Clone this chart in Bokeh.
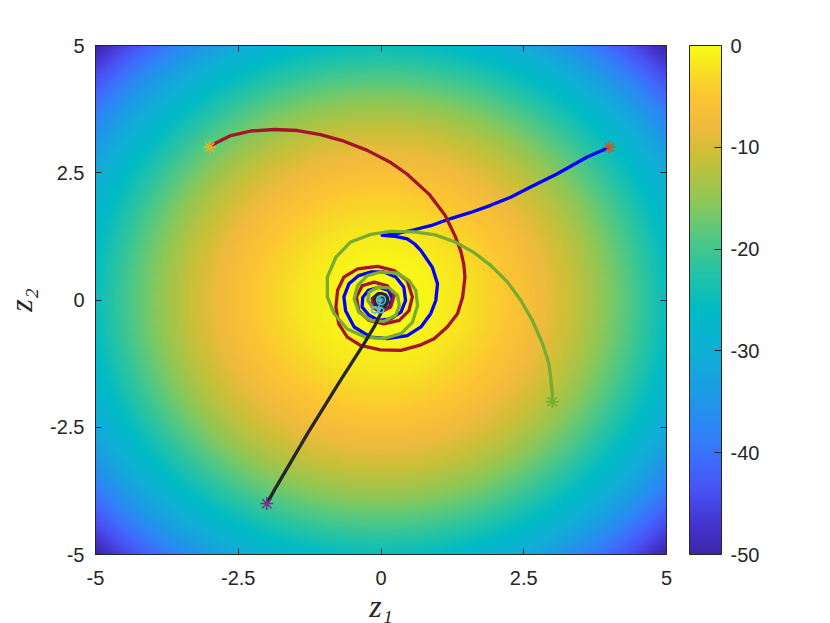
import numpy as np
from bokeh.plotting import figure
from bokeh.models import (Range1d, LinearColorMapper, ColorBar, FixedTicker,
                          LinearAxis)
from bokeh.embed import file_html
from bokeh.resources import INLINE

# ---------------- data ----------------
axis_ticks = [-5, -2.5, 0, 2.5, 5]
axis_tick_labels = ["-5", "-2.5", "0", "2.5", "5"]
cbar_ticks = [-50, -40, -30, -20, -10, 0]
cbar_tick_labels = ["-50", "-40", "-30", "-20", "-10", "0"]
value_low, value_high = -50, 0

start_z1 = [4, -3, 3, -2]
start_z2 = [3, 3, -2, -4]
start_colors = ["#D95319", "#EDB120", "#77AC30", "#7E2F8E"]

blue_z1 = [4.00, 3.61, 3.09, 2.62, 2.27, 1.92, 1.57, 1.22, 0.87, 0.58, 0.29, 0.02,
           0.25, 0.46, 0.59, 0.70, 0.90, 0.99, 0.96, 0.87, 0.70, 0.46, 0.11, -0.18,
           -0.47, -0.62, -0.65, -0.56, -0.39, -0.18, 0.05, 0.26, 0.40, 0.43, 0.35,
           0.17, -0.04, -0.21, -0.33, -0.32, -0.22, -0.04, 0.13, 0.20, 0.13, -0.01,
           -0.13, -0.15, -0.04, 0.08, 0.06, -0.02, 0.00]
blue_z2 = [3.00, 2.81, 2.48, 2.22, 2.02, 1.86, 1.72, 1.60, 1.46, 1.38, 1.31, 1.27,
           1.25, 1.20, 1.10, 0.97, 0.64, 0.32, -0.01, -0.27, -0.53, -0.70, -0.76, -0.73,
           -0.53, -0.21, 0.06, 0.32, 0.48, 0.55, 0.55, 0.45, 0.25, -0.01, -0.24,
           -0.37, -0.40, -0.30, -0.14, 0.05, 0.19, 0.25, 0.19, 0.03, -0.13, -0.19,
           -0.11, 0.03, 0.13, 0.07, -0.05, -0.05, 0.00]

red_z1 = [-3.00, -2.92, -2.63, -2.28, -1.87, -1.46, -1.06, -0.65, -0.24, 0.17, 0.45,
          0.85, 1.12, 1.30, 1.40, 1.45, 1.47, 1.43, 1.34, 1.16, 0.93, 0.70, 0.35,
          -0.01, -0.36, -0.59, -0.74, -0.79, -0.76, -0.65, -0.41, -0.06, 0.23, 0.46,
          0.55, 0.49, 0.32, 0.05, -0.21, -0.39, -0.43, -0.33, -0.12, 0.11, 0.23, 0.17,
          -0.01, -0.15, -0.15, -0.03, 0.05, -0.01, 0.00]
red_z2 = [3.00, 3.07, 3.23, 3.32, 3.35, 3.33, 3.25, 3.12, 2.94, 2.70, 2.48,
          2.07, 1.67, 1.25, 0.95, 0.70, 0.45, 0.06, -0.27, -0.53, -0.76, -0.88, -0.99,
          -0.98, -0.89, -0.73, -0.47, -0.14, 0.19, 0.45, 0.61, 0.66, 0.58, 0.38,
          0.06, -0.21, -0.40, -0.47, -0.40, -0.21, 0.06, 0.28, 0.35, 0.28, 0.09, -0.14,
          -0.24, -0.14, 0.02, 0.10, 0.02, -0.04, 0.00]

green_z1 = [3.00, 3.00, 2.97, 2.94, 2.83, 2.65, 2.45, 2.21, 1.92, 1.63, 1.30, 0.95,
            0.58, 0.17, -0.18, -0.53, -0.79, -0.94, -0.94, -0.82, -0.59, -0.27, 0.05,
            0.35, 0.55, 0.64, 0.61, 0.49, 0.29, -0.01, -0.24, -0.41, -0.47, -0.39,
            -0.18, 0.05, 0.26, 0.32, 0.29, 0.14, -0.06, -0.21, -0.23, -0.15, -0.01,
            0.11, 0.11, -0.01, -0.06, 0.00]
green_z2 = [-2.01, -1.84, -1.50, -1.25, -0.86, -0.40, -0.01, 0.36, 0.68, 0.93, 1.14, 1.28,
            1.34, 1.35, 1.29, 1.14, 0.84, 0.45, 0.06, -0.27, -0.57, -0.73, -0.76,
            -0.66, -0.44, -0.11, 0.19, 0.38, 0.53, 0.55, 0.48, 0.28, 0.02, -0.24,
            -0.40, -0.42, -0.30, -0.11, 0.09, 0.24, 0.25, 0.15, -0.01, -0.14, -0.17,
            -0.09, 0.04, 0.09, 0.00, 0.00]

black_z1 = [-2.00, -1.87, -1.29, -0.71, -0.30, -0.12, -0.02, 0.04, 0.10, 0.12, 0.08,
            0.00, -0.08, -0.11, -0.08, -0.01, 0.05, 0.06, 0.02, 0.00]
black_z2 = [-4.00, -3.74, -2.63, -1.58, -0.86, -0.53, -0.30, -0.16, -0.07, 0.03, 0.10,
            0.13, 0.09, 0.00, -0.08, -0.10, -0.06, 0.01, 0.04, 0.00]

cyan_z1 = [-0.05, -0.10, -0.16, -0.16, -0.10, -0.04, 0.00, 0.05, 0.04, -0.02, -0.05,
           -0.03, 0.00]
cyan_z2 = [-0.20, -0.13, -0.16, -0.23, -0.26, -0.22, -0.15, -0.18, -0.24, -0.25, -0.19,
           -0.10, 0.00]
end_z1 = [0.0]
end_z2 = [0.0]

x_label = "z\u2081"
y_label = "z\u2082"

# ---------------- style ----------------
TXT = "#262626"
FONT = "Liberation Sans"

# parula-like colormap
par_pos = [0.00, 0.06, 0.125, 0.19, 0.25, 0.32, 0.40, 0.48, 0.56, 0.63, 0.70, 0.78,
           0.84, 0.90, 0.95, 1.00]
par_r = [0.2422, 0.2680, 0.2810, 0.2400, 0.1700, 0.1100, 0.0600, 0.0000, 0.1500,
         0.3400, 0.5700, 0.7900, 0.9400, 0.9900, 0.9700, 0.9769]
par_g = [0.1504, 0.2100, 0.3228, 0.4300, 0.5300, 0.6100, 0.6900, 0.7350, 0.7650,
         0.7850, 0.7800, 0.7500, 0.7300, 0.7700, 0.8700, 0.9839]
par_b = [0.6603, 0.8200, 0.9579, 0.9950, 0.9600, 0.8950, 0.8350, 0.7750, 0.6400,
         0.5000, 0.3300, 0.2200, 0.2400, 0.2000, 0.1400, 0.0805]
tt = np.linspace(0, 1, 256)
palette = []
for t in tt:
    r = np.interp(t, par_pos, par_r)
    g = np.interp(t, par_pos, par_g)
    b = np.interp(t, par_pos, par_b)
    palette.append("#%02x%02x%02x" % (int(round(r * 255)), int(round(g * 255)), int(round(b * 255))))

mapper = LinearColorMapper(palette=palette, low=value_low, high=value_high)

# surface V(z) = -(z1^2 + z2^2)
g1 = np.linspace(-5, 5, 401)
G1, G2 = np.meshgrid(g1, g1)
field = -(G1 ** 2 + G2 ** 2)

p = figure(frame_width=571, frame_height=509,
           x_range=Range1d(-5, 5), y_range=Range1d(-5, 5),
           output_backend="svg", toolbar_location=None,
           min_border_left=95, min_border_top=45, min_border_bottom=66,
           min_border_right=125, x_axis_location=None, y_axis_location=None)
p.background_fill_color = "white"
p.border_fill_color = "white"
p.grid.visible = False
p.outline_line_color = TXT
p.outline_line_width = 1

p.image(image=[field], x=-5, y=-5, dw=10, dh=10, color_mapper=mapper)


def style_axis(ax, show_labels, standoff=10):
    ax.ticker = FixedTicker(ticks=axis_ticks)
    if show_labels:
        ax.major_label_overrides = {t: l for t, l in zip(axis_ticks, axis_tick_labels)}
    else:
        ax.major_label_overrides = {t: "" for t in axis_ticks}
    ax.major_tick_in = 6
    ax.major_tick_out = 0
    ax.minor_tick_line_color = None
    ax.axis_line_color = TXT
    ax.major_tick_line_color = TXT
    ax.major_label_text_font = FONT
    ax.major_label_text_color = TXT
    ax.major_label_standoff = standoff
    ax.major_label_text_font_size = "20px"
    ax.axis_label_text_font = "Liberation Serif"
    ax.axis_label_text_font_style = "italic"
    ax.axis_label_text_font_size = "32px"
    ax.axis_label_text_color = TXT


bx = LinearAxis(axis_label=x_label)
style_axis(bx, True, 16)
bx.axis_label_standoff = 0
p.add_layout(bx, "below")
lx = LinearAxis(axis_label=y_label)
style_axis(lx, True, 11)
lx.axis_label_standoff = 8
p.add_layout(lx, "left")
tx = LinearAxis()
style_axis(tx, False, 0)
p.add_layout(tx, "above")
rx = LinearAxis()
style_axis(rx, False, 0)
p.add_layout(rx, "right")

# trajectories
lw = 3.3
p.line(blue_z1, blue_z2, line_color="#0000FF", line_width=lw, line_join="round")
p.line(red_z1, red_z2, line_color="#A2142F", line_width=lw, line_join="round")
p.line(green_z1, green_z2, line_color="#77AC30", line_width=lw, line_join="round")
p.line(black_z1, black_z2, line_color="#262626", line_width=lw, line_join="round")
p.line(cyan_z1, cyan_z2, line_color="#4DBEEE", line_width=1.5, line_join="round")

p.scatter(start_z1, start_z2, marker="asterisk", size=13, line_color=start_colors,
          line_width=1.5)
p.scatter(end_z1, end_z2, marker="circle", size=9, fill_color=None,
          line_color="#4DBEEE", line_width=1.5)
p.scatter(end_z1, end_z2, marker="asterisk", size=6, line_color="#4DBEEE",
          line_width=1)

cb = ColorBar(color_mapper=mapper, ticker=FixedTicker(ticks=cbar_ticks),
              major_label_overrides={t: l for t, l in zip(cbar_ticks, cbar_tick_labels)},
              width=32, height=509, padding=0, margin=0, location=(23, 0),
              bar_line_color=TXT, bar_line_width=1,
              major_tick_in=7, major_tick_out=0, major_tick_line_color=TXT,
              minor_tick_line_color=None,
              label_standoff=9, major_label_text_font=FONT,
              major_label_text_font_size="20px", major_label_text_color=TXT,
              background_fill_alpha=0, border_line_alpha=0)
p.add_layout(cb, "right")

open("out.html", "w").write(file_html(p, INLINE))
